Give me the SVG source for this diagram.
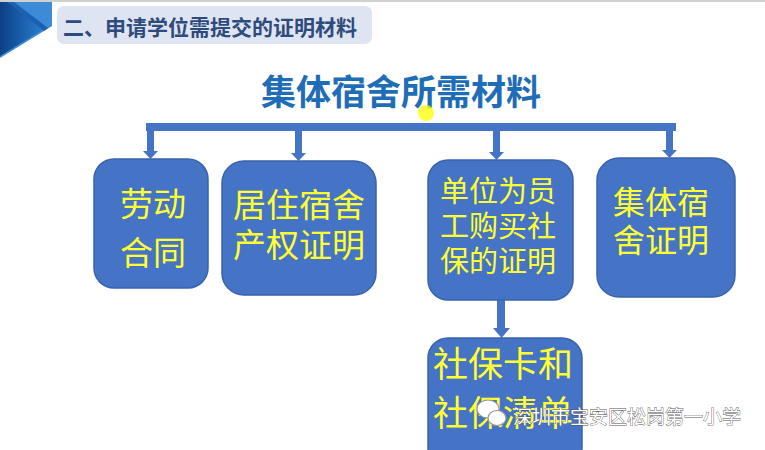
<svg xmlns="http://www.w3.org/2000/svg" width="765" height="450" viewBox="0 0 765 450">
<defs>
<linearGradient id="chev" x1="0" y1="0" x2="1" y2="0">
<stop offset="0" stop-color="#0b3f86"/>
<stop offset="1" stop-color="#2a7fd0"/>
</linearGradient>
<style>
.box{fill:#4573c5;stroke:#3a63ad;stroke-width:1.5}
.bt{font-family:"Noto Sans CJK SC","Noto Sans CJK JP",sans-serif;font-size:33px;fill:#ffff33;text-anchor:middle}
.conn{fill:#4573c5;stroke:none}
</style>
</defs>
<rect x="0" y="0" width="765" height="450" fill="#ffffff"/>
<rect x="0" y="0" width="765" height="2" fill="#d0d0d0"/>
<g id="header">
<polygon points="0,2 52,2 52,26 0,58" fill="#3d8ad6"/>
<polygon points="0,2 8,2 44,29 0,56" fill="url(#chev)"/>
<polygon points="8,2 14,2 48,28 44,31" fill="#1d5fb0"/>
<rect x="57" y="6" width="315" height="38" rx="7" fill="#dee4f1"/>
<text x="63" y="35" font-family="'Noto Sans CJK SC',sans-serif" font-weight="bold" font-size="21" fill="#2e4b7d">二、申请学位需提交的证明材料</text>
</g>
<g id="title">
<text x="401" y="105" text-anchor="middle" font-family="'Noto Sans CJK SC',sans-serif" font-weight="bold" font-size="35" fill="#1f6db7">集体宿舍所需材料</text>
</g>
<g id="connectors">
<rect class="conn" x="146" y="123" width="530" height="8"/>
<path class="conn" d="M147,131 h7 v20 h4 l-7.5,8 l-7.5,-8 h4 z"/>
<path class="conn" d="M295,131 h7 v22 h4 l-7.5,8 l-7.5,-8 h4 z"/>
<path class="conn" d="M493,131 h7 v21 h4 l-7.5,8 l-7.5,-8 h4 z"/>
<path class="conn" d="M666,131 h7 v19 h4 l-7.5,8 l-7.5,-8 h4 z"/>
<path class="conn" d="M497,300 h8 v28 h5 l-8.5,10 l-8.5,-10 h4 z"/>
</g>
<g id="node-laodong">
<rect class="box" x="94" y="159" width="114" height="129" rx="20"/>
<text class="bt" x="153" y="216">劳动</text>
<text class="bt" x="153" y="265">合同</text>
</g>
<g id="node-juzhu">
<rect class="box" x="222" y="161" width="154" height="134" rx="22"/>
<text class="bt" x="299" y="217">居住宿舍</text>
<text class="bt" x="299" y="257">产权证明</text>
</g>
<g id="node-danwei">
<rect class="box" x="428" y="160" width="145" height="140" rx="20"/>
<text class="bt" x="498" y="202" style="font-size:29px">单位为员</text>
<text class="bt" x="498" y="237" style="font-size:29px">工购买社</text>
<text class="bt" x="498" y="272" style="font-size:29px">保的证明</text>
</g>
<g id="node-jiti">
<rect class="box" x="597" y="158" width="138" height="139" rx="22"/>
<text class="bt" x="661" y="214" style="font-size:32px">集体宿</text>
<text class="bt" x="661" y="252" style="font-size:32px">舍证明</text>
</g>
<g id="node-shebao">
<rect class="box" x="428" y="338" width="154" height="130" rx="20"/>
<text class="bt" x="503" y="377" style="font-size:35px">社保卡和</text>
<text class="bt" x="503" y="426" style="font-size:35px">社保清单</text>
</g>
<g id="cursor">
<circle cx="426" cy="113" r="8" fill="#ffff00" opacity="0.75"/>
</g>
<g id="watermark">
<ellipse cx="488" cy="409" rx="11" ry="9" fill="#ffffff" stroke="#9a9a9a" stroke-width="1.2"/>
<ellipse cx="497" cy="418" rx="9" ry="7.5" fill="#ffffff" stroke="#9a9a9a" stroke-width="1.2"/>
<text x="513" y="424" font-family="'Noto Sans CJK SC',sans-serif" font-size="19" fill="#ffffff" stroke="#555555" stroke-width="0.8" paint-order="stroke">深圳市宝安区松岗第一小学</text>
</g>
</svg>
